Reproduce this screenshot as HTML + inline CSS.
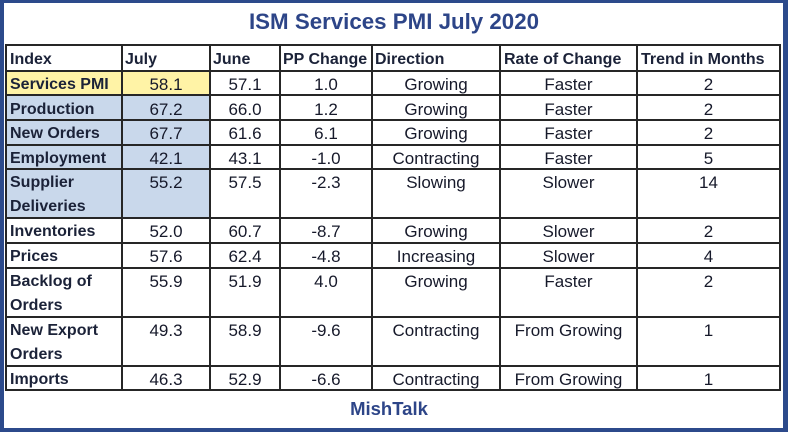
<!DOCTYPE html>
<html><head><meta charset="utf-8">
<style>
html,body{margin:0;padding:0;}
body{width:788px;height:432px;background:#2c4a8b;position:relative;overflow:hidden;font-family:"Liberation Sans",Arial,sans-serif;}
#in{position:absolute;left:4px;top:3px;width:779px;height:425px;background:#fff;}
.t{position:absolute;left:0;width:788px;text-align:center;font-weight:bold;color:#2d4588;}
.f{position:absolute;}
.y{background:#fff3a6;}
.b{background:#c9d8eb;}
.h{position:absolute;background:#262626;height:2px;left:5px;width:776px;}
.v{position:absolute;background:#262626;width:2px;top:44px;height:347px;}
.r{position:absolute;left:0;width:788px;}
.c{position:absolute;top:2px;line-height:24.4px;font-size:17px;color:#16192a;text-align:center;white-space:nowrap;}
.l{font-weight:bold;font-size:16px;text-align:left;padding-left:4px;color:#1b2238;}
.hd{font-weight:bold;font-size:16px;text-align:left;padding-left:3px;color:#1b2238;top:3px;}
.c0{left:6px;width:112px;}
.c1{left:122px;width:88px;}
.c2{left:210px;width:70px;}
.c3{left:280px;width:92px;}
.c4{left:372px;width:128px;}
.c5{left:500px;width:137px;}
.c6{left:637px;width:143px;}
</style></head><body>
<div id="in"></div>
<div class="t" style="top:7px;font-size:22.3px;line-height:30px;">ISM Services PMI July 2020</div>

<!-- fills -->
<div class="f y" style="left:6px;top:71px;width:204px;height:24px;"></div>
<div class="f b" style="left:6px;top:95px;width:204px;height:123px;"></div>

<!-- header -->
<div class="r" style="top:45px;">
<div class="c hd c0" style="padding-left:4px;">Index</div>
<div class="c hd c1">July</div>
<div class="c hd c2">June</div>
<div class="c hd c3">PP Change</div>
<div class="c hd c4">Direction</div>
<div class="c hd c5" style="padding-left:4px;">Rate of Change</div>
<div class="c hd c6" style="padding-left:4px;">Trend in Months</div>
</div>

<div class="r" style="top:71px;">
<div class="c l c0">Services PMI</div><div class="c c1">58.1</div><div class="c c2">57.1</div><div class="c c3">1.0</div><div class="c c4">Growing</div><div class="c c5">Faster</div><div class="c c6">2</div>
</div>
<div class="r" style="top:95.5px;">
<div class="c l c0">Production</div><div class="c c1">67.2</div><div class="c c2">66.0</div><div class="c c3">1.2</div><div class="c c4">Growing</div><div class="c c5">Faster</div><div class="c c6">2</div>
</div>
<div class="r" style="top:120px;">
<div class="c l c0">New Orders</div><div class="c c1">67.7</div><div class="c c2">61.6</div><div class="c c3">6.1</div><div class="c c4">Growing</div><div class="c c5">Faster</div><div class="c c6">2</div>
</div>
<div class="r" style="top:144.5px;">
<div class="c l c0">Employment</div><div class="c c1">42.1</div><div class="c c2">43.1</div><div class="c c3">-1.0</div><div class="c c4">Contracting</div><div class="c c5">Faster</div><div class="c c6">5</div>
</div>
<div class="r" style="top:169px;">
<div class="c l c0">Supplier<br>Deliveries</div><div class="c c1">55.2</div><div class="c c2">57.5</div><div class="c c3">-2.3</div><div class="c c4">Slowing</div><div class="c c5">Slower</div><div class="c c6">14</div>
</div>
<div class="r" style="top:218px;">
<div class="c l c0">Inventories</div><div class="c c1">52.0</div><div class="c c2">60.7</div><div class="c c3">-8.7</div><div class="c c4">Growing</div><div class="c c5">Slower</div><div class="c c6">2</div>
</div>
<div class="r" style="top:243px;">
<div class="c l c0">Prices</div><div class="c c1">57.6</div><div class="c c2">62.4</div><div class="c c3">-4.8</div><div class="c c4">Increasing</div><div class="c c5">Slower</div><div class="c c6">4</div>
</div>
<div class="r" style="top:268px;">
<div class="c l c0">Backlog of<br>Orders</div><div class="c c1">55.9</div><div class="c c2">51.9</div><div class="c c3">4.0</div><div class="c c4">Growing</div><div class="c c5">Faster</div><div class="c c6">2</div>
</div>
<div class="r" style="top:317px;">
<div class="c l c0">New Export<br>Orders</div><div class="c c1">49.3</div><div class="c c2">58.9</div><div class="c c3">-9.6</div><div class="c c4">Contracting</div><div class="c c5">From Growing</div><div class="c c6">1</div>
</div>
<div class="r" style="top:366px;">
<div class="c l c0">Imports</div><div class="c c1">46.3</div><div class="c c2">52.9</div><div class="c c3">-6.6</div><div class="c c4">Contracting</div><div class="c c5">From Growing</div><div class="c c6">1</div>
</div>

<!-- horizontal lines -->
<div class="h" style="top:44px;"></div>
<div class="h" style="top:70px;"></div>
<div class="h" style="top:94px;"></div>
<div class="h" style="top:119px;"></div>
<div class="h" style="top:144px;"></div>
<div class="h" style="top:168px;"></div>
<div class="h" style="top:217px;"></div>
<div class="h" style="top:242px;"></div>
<div class="h" style="top:267px;"></div>
<div class="h" style="top:316px;"></div>
<div class="h" style="top:365px;"></div>
<div class="h" style="top:389px;"></div>

<!-- vertical lines -->
<div class="v" style="left:5px;"></div>
<div class="v" style="left:121px;"></div>
<div class="v" style="left:209px;"></div>
<div class="v" style="left:279px;"></div>
<div class="v" style="left:371px;"></div>
<div class="v" style="left:499px;"></div>
<div class="v" style="left:636px;"></div>
<div class="v" style="left:779px;"></div>

<div class="t" style="top:397px;font-size:18.5px;line-height:24px;left:-5px;">MishTalk</div>
</body></html>
